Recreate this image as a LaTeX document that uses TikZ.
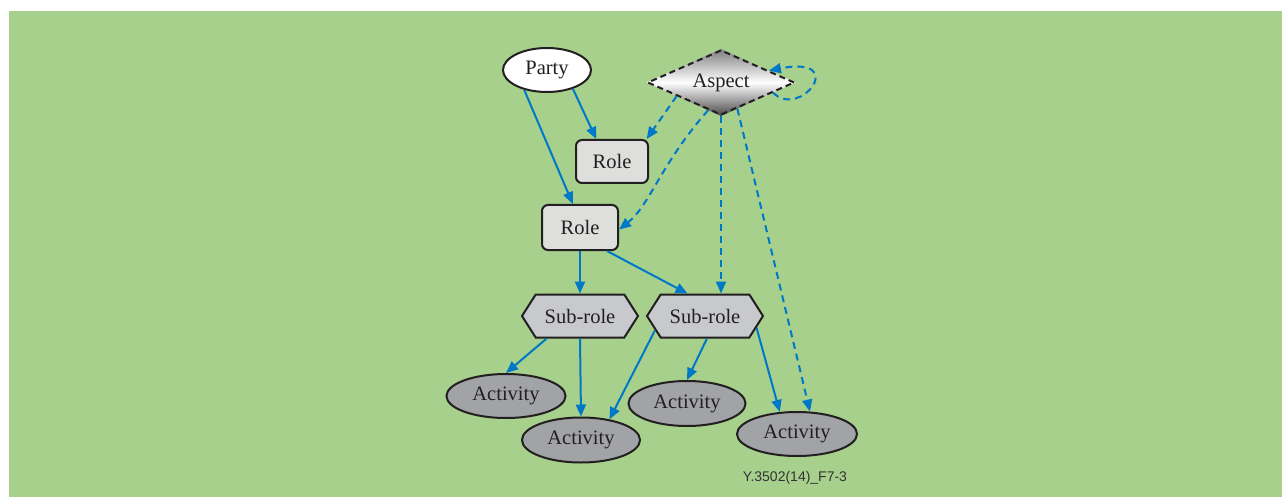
\documentclass[tikz,border=0pt]{standalone}
\usepackage{fontspec}
\setmainfont{Liberation Serif}
\newfontfamily\figlabelfont{Liberation Sans}
\usetikzlibrary{shapes.geometric,shapes.symbols,arrows.meta,backgrounds}
\definecolor{bggreen}{RGB}{166,208,140}
\definecolor{linkblue}{RGB}{0,120,200}
\definecolor{inkdark}{RGB}{35,31,32}
\definecolor{rolefill}{RGB}{222,222,220}
\definecolor{subfill}{RGB}{200,201,205}
\definecolor{actfill}{RGB}{161,163,167}
\begin{document}
\begin{tikzpicture}[x=1pt,y=-1pt,
  every node/.style={font=\fontsize{20.5}{24}\selectfont, text=inkdark, inner sep=0pt},
  border/.style={draw=inkdark, line width=2pt},
  partynode/.style={border, ellipse, fill=white, minimum width=88, minimum height=44},
  aspectnode/.style={draw=inkdark, line width=2pt, dash pattern=on 6pt off 4pt,
    diamond, aspect=2.26, minimum width=147, minimum height=65},
  rolebox/.style={border, rectangle, rounded corners=6pt, fill=rolefill},
  subrole/.style={border, signal, signal to=west and east, signal pointer angle=115,
    fill=subfill, minimum width=116, minimum height=43},
  activity/.style={border, ellipse, fill=actfill, minimum width=119, minimum height=44},
  link/.style={draw=linkblue, line width=2pt, -{Triangle[length=12pt,width=10pt]}},
  dlink/.style={link, dash pattern=on 7pt off 5pt}
]
\useasboundingbox (0,0) rectangle (1282,497);

% nodes
\node[partynode] (party) at (547,70) {Party};
\node[aspectnode] (aspect) at (721,82.5) {Aspect};
\node[rolebox, minimum width=72, minimum height=43] (role1) at (612,161.5) {Role};
\node[rolebox, minimum width=76, minimum height=45] (role2) at (580,227.5) {Role};
\node[subrole] (sub1) at (580,316) {Sub-role};
\node[subrole] (sub2) at (705,316) {Sub-role};
\node[activity] (act1) at (506,396) {Activity};
\node[activity, minimum width=118, minimum height=45] (act2) at (581,440) {Activity};
\node[activity, minimum width=117, minimum height=45] (act3) at (687,403.5) {Activity};
\node[activity, minimum width=120] (act4) at (797,434) {Activity};
\node[font=\figlabelfont\fontsize{14}{16}\selectfont, text=black!80] (figid) at (795,478) {Y.3502(14)\_F7-3};

% page, panel and the metallic fill of the aspect diamond
\begin{pgfonlayer}{background}
  \fill[white] (0,0) rectangle (1282,497);
  \fill[bggreen] (9,11) rectangle (1282,497);
  \shade[top color=black!50, bottom color=black!72, middle color=white]
    (aspect.north) -- (aspect.east) -- (aspect.south) -- (aspect.west) -- cycle;
\end{pgfonlayer}

% solid links
\draw[link] (party.-36) -- (role1.125);
\draw[link] (party.-139) -- (role2.107);
\draw[link] (role2.south) -- (sub1.north);
\draw[link] (role2.-41) -- (sub2.128);
\draw[link] (sub1.-146) -- (act1.north);
\draw[link] (sub1.south) -- (act2.north);
\draw[link] (sub2.-164) -- (act2.36.5);
\draw[link] (sub2.-85) -- (act3.north);
\draw[link] (sub2.-13) -- (act4.128);

% dashed links from the aspect
\draw[dlink] (aspect.-163) -- (role1.33);
\draw[dlink] (aspect.-115) .. controls (660,165) and (650,205) .. (role2.-3);
\draw[dlink] (aspect.south) -- (aspect.south |- sub2.north);
\draw[dlink] (aspect.-58) -- (act4.60);
\draw[dlink] (aspect.-11) .. controls (800,120) and (850,55) .. (aspect.14);
\end{tikzpicture}
\end{document}
